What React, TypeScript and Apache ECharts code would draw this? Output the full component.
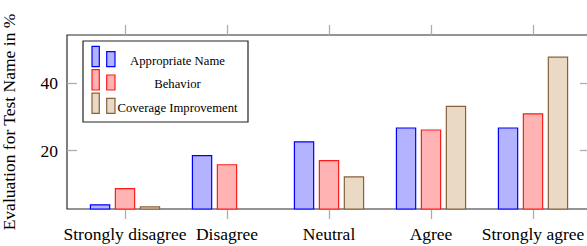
import React, { useEffect, useRef } from "react";
import * as echarts from "echarts";

const categories = ["Strongly disagree", "Disagree", "Neutral", "Agree", "Strongly agree"];
const seriesNames = ["Appropriate Name", "Behavior", "Coverage Improvement"];
const appropriateName = [4.1, 18.7, 22.8, 26.9, 26.9];
const behavior = [8.9, 16.0, 17.2, 26.3, 31.1];
const coverageImprovement = [3.5, 0, 12.4, 33.3, 47.9];
const yTicks = [20, 40];
const yMin = 2.7;
const yMax = 54.3;

const fills = ["#b3b3ff", "#ffb3b3", "#ead9c5"];
const strokes = ["#0000ff", "#ff1a1a", "#86613b"];
const FONT = "'Liberation Serif', 'DejaVu Serif', serif";

export default function App() {
  const ref = useRef<HTMLDivElement>(null);
  useEffect(() => {
    if (!ref.current) return;
    const chart = echarts.init(ref.current, null, { renderer: "svg" });
    const values = [appropriateName, behavior, coverageImprovement];
    const tickStyle = { color: "#adadad", width: 1.3 };

    const legendX = 83;
    const legendY = 41;
    const rowH = 23.4;
    const legendGraphics: any[] = [
      {
        type: "rect",
        shape: { x: legendX, y: legendY, width: 165, height: 81 },
        style: { fill: "#fff", stroke: "#222", lineWidth: 1.2 },
        z: 100,
      },
    ];
    seriesNames.forEach((name, i) => {
      const top = 46.3 + i * rowH;
      legendGraphics.push(
        {
          type: "rect",
          shape: { x: 92, y: top, width: 7.3, height: 20.3 },
          style: { fill: fills[i], stroke: strokes[i], lineWidth: 1.2 },
          z: 101,
        },
        {
          type: "rect",
          shape: { x: 106.7, y: top + 5.3, width: 8.3, height: 15 },
          style: { fill: fills[i], stroke: strokes[i], lineWidth: 1.2 },
          z: 101,
        },
        {
          type: "text",
          x: 177.5,
          y: top + 14.7,
          style: {
            text: name,
            fill: "#000",
            font: `12.7px ${FONT}`,
            align: "center",
            verticalAlign: "middle",
          },
          z: 101,
        }
      );
    });

    chart.setOption({
      animation: false,
      grid: [
        {
          left: 67,
          top: 35,
          width: 523,
          height: 174,
          show: true,
          borderColor: "#2b2b2b",
          borderWidth: 1.2,
          backgroundColor: "transparent",
          containLabel: false,
          outerBoundsMode: "none",
        },
        { left: 74, top: 35, width: 510, height: 174, containLabel: false, outerBoundsMode: "none" },
      ],
      xAxis: [
        { gridIndex: 0, type: "category", data: categories, show: false },
        {
          gridIndex: 1,
          type: "category",
          data: categories,
          position: "bottom",
          axisLine: { show: false, onZero: false },
          axisTick: { show: true, interval: 0, alignWithLabel: true, length: 10, lineStyle: tickStyle },
          axisLabel: {
            interval: 0,
            margin: 16,
            fontSize: 17.5,
            fontFamily: FONT,
            color: "#000",
          },
        },
        {
          gridIndex: 1,
          type: "category",
          data: categories,
          position: "top",
          axisLine: { show: false, onZero: false },
          axisTick: { show: true, interval: 0, alignWithLabel: true, length: 10, lineStyle: tickStyle },
          axisLabel: { show: false },
        },
      ],
      yAxis: [
        {
          gridIndex: 0,
          type: "value",
          min: yMin,
          max: yMax,
          position: "left",
          axisLine: { show: false, onZero: false },
          splitLine: { show: false },
          axisTick: { show: true, inside: true, length: 10, customValues: yTicks, lineStyle: tickStyle },
          axisLabel: {
            customValues: yTicks,
            margin: 9,
            fontSize: 17.5,
            fontFamily: FONT,
            color: "#000",
          },
          name: "Evaluation for Test Name in %",
          nameLocation: "middle",
          nameGap: 49,
          nameTextStyle: { fontSize: 17.5, fontFamily: FONT, color: "#000" },
        },
        {
          gridIndex: 0,
          type: "value",
          min: yMin,
          max: yMax,
          position: "right",
          axisLine: { show: false, onZero: false },
          splitLine: { show: false },
          axisTick: { show: true, inside: true, length: 10, customValues: yTicks, lineStyle: tickStyle },
          axisLabel: { show: false },
        },
        { gridIndex: 1, type: "value", min: yMin, max: yMax, show: false },
      ],
      series: seriesNames.map((name, i) => ({
        name,
        type: "bar",
        xAxisIndex: 1,
        yAxisIndex: 2,
        data: values[i],
        barGap: "22%",
        barCategoryGap: "31%",
        itemStyle: { color: fills[i], borderColor: strokes[i], borderWidth: 1.2 },
      })),
      graphic: legendGraphics,
    });
    return () => chart.dispose();
  }, []);

  return (
    <div
      style={{
        position: "fixed",
        left: 0,
        top: 0,
        width: 587,
        height: 246,
        overflow: "hidden",
        background: "#fff",
      }}
    >
      <div ref={ref} style={{ width: 600, height: 246 }} />
    </div>
  );
}
